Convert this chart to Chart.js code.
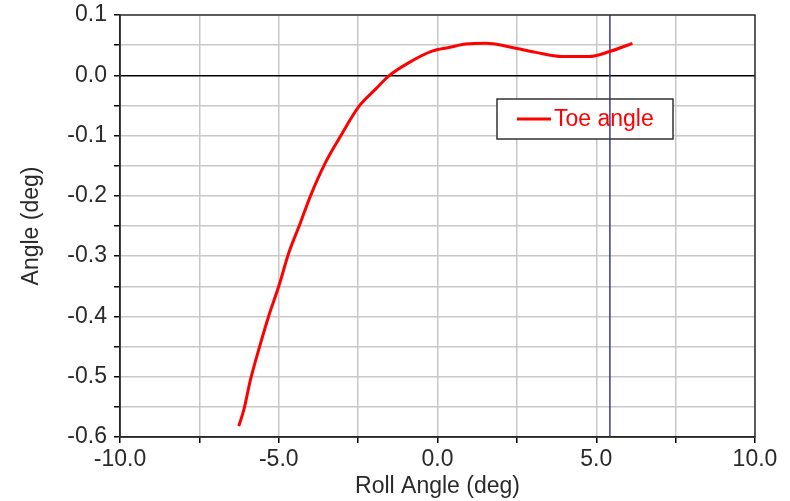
<!DOCTYPE html>
<html>
<head>
<meta charset="utf-8">
<script src="https://cdn.jsdelivr.net/npm/chart.js@4/dist/chart.umd.min.js"></script>
<style>
  body { margin: 0; background: #fff; }
  #wrap { width: 790px; height: 501px; }
</style>
</head>
<body>
<div id="wrap"><canvas id="toeChart" width="790" height="501"></canvas></div>
<script>
// data
const rollAngle = [-6.26, -6.10, -5.89, -5.63, -5.32, -5.00, -4.68, -4.32, -4.00, -3.53, -3.11, -2.48, -1.95, -1.53, -0.90, -0.17, 0.36, 0.89, 1.52, 2.46, 3.09, 3.93, 4.77, 5.40, 6.14];
const toeAngle = [-0.582, -0.555, -0.505, -0.455, -0.400, -0.350, -0.294, -0.245, -0.200, -0.145, -0.106, -0.052, -0.023, -0.001, 0.021, 0.040, 0.046, 0.052, 0.053, 0.045, 0.038, 0.031, 0.031, 0.039, 0.053];
const cursorRoll = 5.43;
const xRange = [-10, 10];
const yRange = [-0.6, 0.1];
const seriesName = "Toe angle";

const FONT = "'Liberation Sans', Arial, sans-serif";

// legend box + frame
const boxPlugin = {
  id: "boxPlugin",
  beforeDatasetsDraw(chart) {
    const { ctx, chartArea } = chart;
    const left = chartArea.left + 377;
    const top = chartArea.top + 84;
    ctx.save();
    ctx.fillStyle = "#fff";
    ctx.fillRect(left, top, 176, 40);
    ctx.strokeStyle = "#333";
    ctx.lineWidth = 1.5;
    ctx.strokeRect(left, top, 176, 40);
    ctx.strokeStyle = "#ff0000";
    ctx.lineWidth = 3;
    ctx.beginPath();
    ctx.moveTo(left + 20, top + 20);
    ctx.lineTo(left + 54, top + 20);
    ctx.stroke();
    ctx.fillStyle = "#ff0000";
    ctx.font = "23px " + FONT;
    ctx.textBaseline = "middle";
    ctx.fillText(seriesName, left + 57, top + 21);
    ctx.restore();
  },
  afterDraw(chart) {
    const { ctx, chartArea } = chart;
    ctx.save();
    ctx.strokeStyle = "#333";
    ctx.lineWidth = 1.5;
    ctx.strokeRect(chartArea.left, chartArea.top, chartArea.right - chartArea.left, chartArea.bottom - chartArea.top);
    ctx.restore();
  }
};

const ctx = document.getElementById("toeChart").getContext("2d");
new Chart(ctx, {
  type: "scatter",
  data: {
    datasets: [
      {
        label: seriesName,
        data: rollAngle.map((x, i) => ({ x: x, y: toeAngle[i] })),
        showLine: true,
        borderColor: "#ff0000",
        borderWidth: 3,
        pointRadius: 0,
        cubicInterpolationMode: "monotone",
      },
      {
        label: "cursor",
        data: [{ x: cursorRoll, y: yRange[0] }, { x: cursorRoll, y: yRange[1] }],
        showLine: true,
        borderColor: "#3c3c8c",
        borderWidth: 1.5,
        pointRadius: 0,
      },
    ],
  },
  options: {
    responsive: false,
    animation: false,
    layout: { padding: { top: 15, right: 35, left: 0, bottom: 0 } },
    plugins: {
      legend: { display: false },
      tooltip: { enabled: false },
    },
    scales: {
      x: {
        type: "linear",
        min: xRange[0],
        max: xRange[1],
        afterFit: (s) => { s.height = 64; s.paddingRight = 0; },
        ticks: {
          stepSize: 2.5,
          autoSkip: false,
          maxRotation: 0,
          padding: 3,
          color: "#2a2a2a",
          font: { family: FONT, size: 23 },
          callback: (v) => (v % 5 === 0 ? Number(v).toFixed(1) : ""),
        },
        grid: {
          color: "#c8c8c8",
          lineWidth: 1.5,
          tickColor: "#000",
          tickLength: 6,
        },
        border: { color: "#000", width: 1.5 },
        title: {
          display: true,
          text: "Roll Angle (deg)",
          color: "#2a2a2a",
          font: { family: FONT, size: 23 },
          padding: { top: 0, bottom: 1 },
        },
      },
      y: {
        type: "linear",
        min: yRange[0],
        max: yRange[1],
        afterFit: (s) => { s.width = 120; s.paddingTop = 0; s.paddingBottom = 0; },
        ticks: {
          stepSize: 0.05,
          autoSkip: false,
          padding: 7,
          color: "#2a2a2a",
          font: { family: FONT, size: 23 },
          callback: (v) => {
            const t = v * 10;
            return Math.abs(t - Math.round(t)) < 1e-6 ? Number(v).toFixed(1) : "";
          },
        },
        grid: {
          color: (c) => (c.tick && Math.abs(c.tick.value) < 1e-9 ? "#000" : "#c8c8c8"),
          lineWidth: 1.5,
          tickColor: "#000",
          tickLength: 6,
        },
        border: { color: "#000", width: 1.5 },
        title: {
          display: true,
          text: "Angle (deg)",
          color: "#2a2a2a",
          font: { family: FONT, size: 23 },
          padding: { top: 18, bottom: 0 },
        },
      },
    },
  },
  plugins: [boxPlugin],
});
</script>
</body>
</html>
